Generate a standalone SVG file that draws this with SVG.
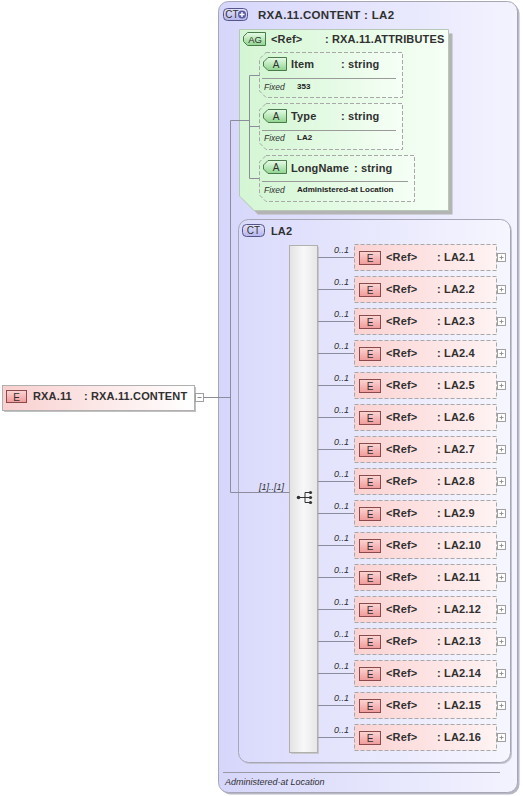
<svg xmlns="http://www.w3.org/2000/svg" width="523" height="796" viewBox="0 0 523 796">
<defs>
<linearGradient id="gCT" x1="0" y1="0" x2="1" y2="0"><stop offset="0" stop-color="#d6d6fb"/><stop offset="1" stop-color="#f3f3ff"/></linearGradient>
<linearGradient id="gCT2" x1="0" y1="0" x2="1" y2="0"><stop offset="0" stop-color="#dadafc"/><stop offset="1" stop-color="#f6f6ff"/></linearGradient>
<linearGradient id="gAG" x1="0" y1="0" x2="1" y2="0"><stop offset="0" stop-color="#d4f6d4"/><stop offset="1" stop-color="#f6fff6"/></linearGradient>
<linearGradient id="gEl" x1="0" y1="0" x2="1" y2="0"><stop offset="0" stop-color="#fbd2d2"/><stop offset="1" stop-color="#fff3f3"/></linearGradient>
<linearGradient id="gElTop" x1="0" y1="0" x2="1" y2="0"><stop offset="0" stop-color="#f9cfcf"/><stop offset="1" stop-color="#ffffff"/></linearGradient>
<linearGradient id="gSeq" x1="0" y1="0" x2="1" y2="0"><stop offset="0" stop-color="#e2e2e2"/><stop offset="0.5" stop-color="#f8f8f8"/><stop offset="1" stop-color="#e6e6e6"/></linearGradient>
<linearGradient id="gEi" x1="0" y1="0" x2="0" y2="1"><stop offset="0" stop-color="#fbd6d6"/><stop offset="1" stop-color="#f09a9a"/></linearGradient>
<linearGradient id="gAi" x1="0" y1="0" x2="0" y2="1"><stop offset="0" stop-color="#e8fce8"/><stop offset="1" stop-color="#8fd48f"/></linearGradient>
<linearGradient id="gCTi" x1="0" y1="0" x2="0" y2="1"><stop offset="0" stop-color="#e4e4fc"/><stop offset="1" stop-color="#b4b4ec"/></linearGradient>
<style>
.t{font-family:"Liberation Sans",Arial,sans-serif;font-size:11px;font-weight:bold;fill:#303030;letter-spacing:0.15px}
.th{font-family:"Liberation Sans",Arial,sans-serif;font-size:11.5px;font-weight:bold;fill:#303030;letter-spacing:0.3px}
.ti{font-family:"Liberation Sans",Arial,sans-serif;font-size:9px;font-style:italic;fill:#303030}
.tf{font-family:"Liberation Sans",Arial,sans-serif;font-size:8.5px;font-style:italic;fill:#303030}
.tv{font-family:"Liberation Sans",Arial,sans-serif;font-size:8px;font-weight:bold;fill:#202020}
.ic{font-family:"Liberation Sans",Arial,sans-serif;font-size:10px;fill:#303030;text-anchor:middle}
.ln{fill:none;stroke:#8c8c9c;stroke-width:1}
.dash{stroke:#a8a8a8;stroke-width:1;stroke-dasharray:4,2}
.ei{fill:url(#gEi);stroke:#8a4a4a;stroke-width:1}
.ai{fill:url(#gAi);stroke:#4a7a4a;stroke-width:1}
.cti{fill:url(#gCTi);stroke:#55558a;stroke-width:1}
.pb{fill:#ffffff;stroke:#a0a0a0;stroke-width:1}
</style>
</defs>

<!-- outer complex type -->
<g id="ct-content">
<rect x="220.5" y="3.5" width="299" height="791" rx="10" fill="#b8b8c4"/>
<rect x="218.5" y="1.5" width="299" height="791" rx="10" fill="url(#gCT)" stroke="#a6a6b6"/>
<rect class="cti" x="223.5" y="8.5" width="24" height="12" rx="4"/>
<text class="ic" x="232" y="18">CT</text>
<circle cx="242" cy="14.5" r="4" fill="#5a5aa0"/>
<path d="M239.5,14.5h5M242,12v5" stroke="#ffffff" stroke-width="1.4"/>
<text class="th" x="258" y="19">RXA.11.CONTENT : LA2</text>
<line x1="223" y1="772.5" x2="500" y2="772.5" stroke="#9a9aa4"/>
<text class="ti" x="225" y="785">Administered-at Location</text>
</g>

<!-- attribute group -->
<g id="ag-attributes">
<path d="M243.5,33.5H452.5V214.5H258L243.5,200Z" fill="#b4b4b4"/>
<path d="M239.5,29.5H448.5V210.5H254L239.5,196Z" fill="url(#gAG)" stroke="#b8c8b8"/>
<path class="ai" d="M247.5,32.5H265.5V45.5H247.5L243.5,41.5V36.5Z"/>
<text class="ic" x="255" y="43" style="font-size:9.5px">AG</text>
<text class="t" x="271" y="43">&lt;Ref&gt;</text>
<text class="t" x="325" y="43">: RXA.11.ATTRIBUTES</text>
</g>

<g id="attr-item">
<path class="dash" d="M266,52.5H402.5V97.5H266L259.5,91V59Z" fill="url(#gAG)"/>
<path class="ai" d="M268,57.5H286.5V70.5H268L263.5,66V62Z"/>
<text class="ic" x="276" y="68">A</text>
<text class="t" x="291" y="68">Item</text>
<text class="t" x="341" y="68">: string</text>
<line x1="262" y1="78.5" x2="396" y2="78.5" stroke="#9a9a9a"/>
<text class="tf" x="264" y="90">Fixed</text>
<text class="tv" x="297" y="89">353</text>
</g>

<g id="attr-type">
<path class="dash" d="M266,103.5H402.5V149.5H266L259.5,143V110Z" fill="url(#gAG)"/>
<path class="ai" d="M268,109.5H286.5V122.5H268L263.5,118V114Z"/>
<text class="ic" x="276" y="120">A</text>
<text class="t" x="291" y="120">Type</text>
<text class="t" x="341" y="120">: string</text>
<line x1="262" y1="130.5" x2="396" y2="130.5" stroke="#9a9a9a"/>
<text class="tf" x="264" y="141">Fixed</text>
<text class="tv" x="297" y="140">LA2</text>
</g>

<g id="attr-longname">
<path class="dash" d="M266,155.5H414.5V201.5H266L259.5,195V162Z" fill="url(#gAG)"/>
<path class="ai" d="M268,160.5H286.5V173.5H268L263.5,169V165Z"/>
<text class="ic" x="276" y="171">A</text>
<text class="t" x="291" y="172">LongName</text>
<text class="t" x="354" y="172">: string</text>
<line x1="262" y1="181.5" x2="408" y2="181.5" stroke="#9a9a9a"/>
<text class="tf" x="264" y="193">Fixed</text>
<text class="tv" x="297" y="192">Administered-at Location</text>
</g>

<!-- LA2 complex type -->
<g id="ct-la2">
<rect x="240" y="221" width="272" height="543" rx="10" fill="#c4c4d0"/>
<rect x="238.5" y="219.5" width="272" height="543" rx="10" fill="url(#gCT2)" stroke="#a6a6b6"/>
<rect class="cti" x="242.5" y="224.5" width="22" height="12" rx="4"/>
<text class="ic" x="253.5" y="234">CT</text>
<text class="t" x="271" y="235">LA2</text>
</g>

<!-- sequence compositor -->
<g id="seq">
<rect x="291" y="247" width="28" height="507" fill="#c8c8c8"/>
<rect x="289.5" y="245.5" width="28" height="507" fill="url(#gSeq)" stroke="#b0b0b0"/>
<circle cx="298.5" cy="497.5" r="1.8" fill="#333"/>
<path d="M298.5,497.5H305M305,492.5V502.5M305,492.5H310M305,497.5H310M305,502.5H310" stroke="#333" stroke-width="1"/>
<circle cx="310.5" cy="492.5" r="1.6" fill="#333"/>
<circle cx="310.5" cy="497.5" r="1.6" fill="#333"/>
<circle cx="310.5" cy="502.5" r="1.6" fill="#333"/>
</g>

<!-- root element -->
<g id="el-rxa11">
<rect x="4" y="387" width="192" height="25" fill="#c0c0c0"/>
<rect x="2.5" y="385.5" width="192" height="25" fill="url(#gElTop)" stroke="#b0b0b0"/>
<rect class="ei" x="6.5" y="390.5" width="20" height="12"/>
<text class="ic" x="16.5" y="400.5">E</text>
<text class="t" x="33" y="400">RXA.11</text>
<text class="t" x="84" y="400">: RXA.11.CONTENT</text>
<rect class="pb" x="195.5" y="393.5" width="8" height="8"/>
<line x1="197.5" y1="397.5" x2="201.5" y2="397.5" stroke="#888"/>
</g>

<!-- child elements -->
<g id="el-la2-1"><rect class="dash" x="354.5" y="244.5" width="142" height="26" fill="url(#gEl)"/><rect class="ei" x="359.5" y="251.5" width="21" height="13"/><text class="ic" x="370" y="261.5">E</text><text class="t" x="386" y="261">&lt;Ref&gt;</text><text class="t" x="437" y="261">: LA2.1</text><rect class="pb" x="497.5" y="253.5" width="8" height="8"/><path d="M499.5,257.5h4M501.5,255.5v4" stroke="#999"/></g>
<g id="el-la2-2"><rect class="dash" x="354.5" y="276.5" width="142" height="26" fill="url(#gEl)"/><rect class="ei" x="359.5" y="283.5" width="21" height="13"/><text class="ic" x="370" y="293.5">E</text><text class="t" x="386" y="293">&lt;Ref&gt;</text><text class="t" x="437" y="293">: LA2.2</text><rect class="pb" x="497.5" y="285.5" width="8" height="8"/><path d="M499.5,289.5h4M501.5,287.5v4" stroke="#999"/></g>
<g id="el-la2-3"><rect class="dash" x="354.5" y="308.5" width="142" height="26" fill="url(#gEl)"/><rect class="ei" x="359.5" y="315.5" width="21" height="13"/><text class="ic" x="370" y="325.5">E</text><text class="t" x="386" y="325">&lt;Ref&gt;</text><text class="t" x="437" y="325">: LA2.3</text><rect class="pb" x="497.5" y="317.5" width="8" height="8"/><path d="M499.5,321.5h4M501.5,319.5v4" stroke="#999"/></g>
<g id="el-la2-4"><rect class="dash" x="354.5" y="340.5" width="142" height="26" fill="url(#gEl)"/><rect class="ei" x="359.5" y="347.5" width="21" height="13"/><text class="ic" x="370" y="357.5">E</text><text class="t" x="386" y="357">&lt;Ref&gt;</text><text class="t" x="437" y="357">: LA2.4</text><rect class="pb" x="497.5" y="349.5" width="8" height="8"/><path d="M499.5,353.5h4M501.5,351.5v4" stroke="#999"/></g>
<g id="el-la2-5"><rect class="dash" x="354.5" y="372.5" width="142" height="26" fill="url(#gEl)"/><rect class="ei" x="359.5" y="379.5" width="21" height="13"/><text class="ic" x="370" y="389.5">E</text><text class="t" x="386" y="389">&lt;Ref&gt;</text><text class="t" x="437" y="389">: LA2.5</text><rect class="pb" x="497.5" y="381.5" width="8" height="8"/><path d="M499.5,385.5h4M501.5,383.5v4" stroke="#999"/></g>
<g id="el-la2-6"><rect class="dash" x="354.5" y="404.5" width="142" height="26" fill="url(#gEl)"/><rect class="ei" x="359.5" y="411.5" width="21" height="13"/><text class="ic" x="370" y="421.5">E</text><text class="t" x="386" y="421">&lt;Ref&gt;</text><text class="t" x="437" y="421">: LA2.6</text><rect class="pb" x="497.5" y="413.5" width="8" height="8"/><path d="M499.5,417.5h4M501.5,415.5v4" stroke="#999"/></g>
<g id="el-la2-7"><rect class="dash" x="354.5" y="436.5" width="142" height="26" fill="url(#gEl)"/><rect class="ei" x="359.5" y="443.5" width="21" height="13"/><text class="ic" x="370" y="453.5">E</text><text class="t" x="386" y="453">&lt;Ref&gt;</text><text class="t" x="437" y="453">: LA2.7</text><rect class="pb" x="497.5" y="445.5" width="8" height="8"/><path d="M499.5,449.5h4M501.5,447.5v4" stroke="#999"/></g>
<g id="el-la2-8"><rect class="dash" x="354.5" y="468.5" width="142" height="26" fill="url(#gEl)"/><rect class="ei" x="359.5" y="475.5" width="21" height="13"/><text class="ic" x="370" y="485.5">E</text><text class="t" x="386" y="485">&lt;Ref&gt;</text><text class="t" x="437" y="485">: LA2.8</text><rect class="pb" x="497.5" y="477.5" width="8" height="8"/><path d="M499.5,481.5h4M501.5,479.5v4" stroke="#999"/></g>
<g id="el-la2-9"><rect class="dash" x="354.5" y="500.5" width="142" height="26" fill="url(#gEl)"/><rect class="ei" x="359.5" y="507.5" width="21" height="13"/><text class="ic" x="370" y="517.5">E</text><text class="t" x="386" y="517">&lt;Ref&gt;</text><text class="t" x="437" y="517">: LA2.9</text><rect class="pb" x="497.5" y="509.5" width="8" height="8"/><path d="M499.5,513.5h4M501.5,511.5v4" stroke="#999"/></g>
<g id="el-la2-10"><rect class="dash" x="354.5" y="532.5" width="142" height="26" fill="url(#gEl)"/><rect class="ei" x="359.5" y="539.5" width="21" height="13"/><text class="ic" x="370" y="549.5">E</text><text class="t" x="386" y="549">&lt;Ref&gt;</text><text class="t" x="437" y="549">: LA2.10</text><rect class="pb" x="497.5" y="541.5" width="8" height="8"/><path d="M499.5,545.5h4M501.5,543.5v4" stroke="#999"/></g>
<g id="el-la2-11"><rect class="dash" x="354.5" y="564.5" width="142" height="26" fill="url(#gEl)"/><rect class="ei" x="359.5" y="571.5" width="21" height="13"/><text class="ic" x="370" y="581.5">E</text><text class="t" x="386" y="581">&lt;Ref&gt;</text><text class="t" x="437" y="581">: LA2.11</text><rect class="pb" x="497.5" y="573.5" width="8" height="8"/><path d="M499.5,577.5h4M501.5,575.5v4" stroke="#999"/></g>
<g id="el-la2-12"><rect class="dash" x="354.5" y="596.5" width="142" height="26" fill="url(#gEl)"/><rect class="ei" x="359.5" y="603.5" width="21" height="13"/><text class="ic" x="370" y="613.5">E</text><text class="t" x="386" y="613">&lt;Ref&gt;</text><text class="t" x="437" y="613">: LA2.12</text><rect class="pb" x="497.5" y="605.5" width="8" height="8"/><path d="M499.5,609.5h4M501.5,607.5v4" stroke="#999"/></g>
<g id="el-la2-13"><rect class="dash" x="354.5" y="628.5" width="142" height="26" fill="url(#gEl)"/><rect class="ei" x="359.5" y="635.5" width="21" height="13"/><text class="ic" x="370" y="645.5">E</text><text class="t" x="386" y="645">&lt;Ref&gt;</text><text class="t" x="437" y="645">: LA2.13</text><rect class="pb" x="497.5" y="637.5" width="8" height="8"/><path d="M499.5,641.5h4M501.5,639.5v4" stroke="#999"/></g>
<g id="el-la2-14"><rect class="dash" x="354.5" y="660.5" width="142" height="26" fill="url(#gEl)"/><rect class="ei" x="359.5" y="667.5" width="21" height="13"/><text class="ic" x="370" y="677.5">E</text><text class="t" x="386" y="677">&lt;Ref&gt;</text><text class="t" x="437" y="677">: LA2.14</text><rect class="pb" x="497.5" y="669.5" width="8" height="8"/><path d="M499.5,673.5h4M501.5,671.5v4" stroke="#999"/></g>
<g id="el-la2-15"><rect class="dash" x="354.5" y="692.5" width="142" height="26" fill="url(#gEl)"/><rect class="ei" x="359.5" y="699.5" width="21" height="13"/><text class="ic" x="370" y="709.5">E</text><text class="t" x="386" y="709">&lt;Ref&gt;</text><text class="t" x="437" y="709">: LA2.15</text><rect class="pb" x="497.5" y="701.5" width="8" height="8"/><path d="M499.5,705.5h4M501.5,703.5v4" stroke="#999"/></g>
<g id="el-la2-16"><rect class="dash" x="354.5" y="724.5" width="142" height="26" fill="url(#gEl)"/><rect class="ei" x="359.5" y="731.5" width="21" height="13"/><text class="ic" x="370" y="741.5">E</text><text class="t" x="386" y="741">&lt;Ref&gt;</text><text class="t" x="437" y="741">: LA2.16</text><rect class="pb" x="497.5" y="733.5" width="8" height="8"/><path d="M499.5,737.5h4M501.5,735.5v4" stroke="#999"/></g>

<!-- connectors -->
<g id="connectors">
<path class="ln" d="M203.5,397.5H230.5M230.5,120.5V492.5H289.5M230.5,120.5H249.5M249.5,75.5V178.5M249.5,75.5H259.5M249.5,126.5H259.5M249.5,178.5H259.5"/>
<text class="ti" x="259" y="490">[1]..[1]</text>
<path class="ln" d="M318,257.5H354M318,289.5H354M318,321.5H354M318,353.5H354M318,385.5H354M318,417.5H354M318,449.5H354M318,481.5H354M318,513.5H354M318,545.5H354M318,577.5H354M318,609.5H354M318,641.5H354M318,673.5H354M318,705.5H354M318,737.5H354"/>
<g class="ti">
<text x="334" y="253">0..1</text><text x="334" y="285">0..1</text><text x="334" y="317">0..1</text><text x="334" y="349">0..1</text>
<text x="334" y="381">0..1</text><text x="334" y="413">0..1</text><text x="334" y="445">0..1</text><text x="334" y="477">0..1</text>
<text x="334" y="509">0..1</text><text x="334" y="541">0..1</text><text x="334" y="573">0..1</text><text x="334" y="605">0..1</text>
<text x="334" y="637">0..1</text><text x="334" y="669">0..1</text><text x="334" y="701">0..1</text><text x="334" y="733">0..1</text>
</g>
</g>
</svg>
